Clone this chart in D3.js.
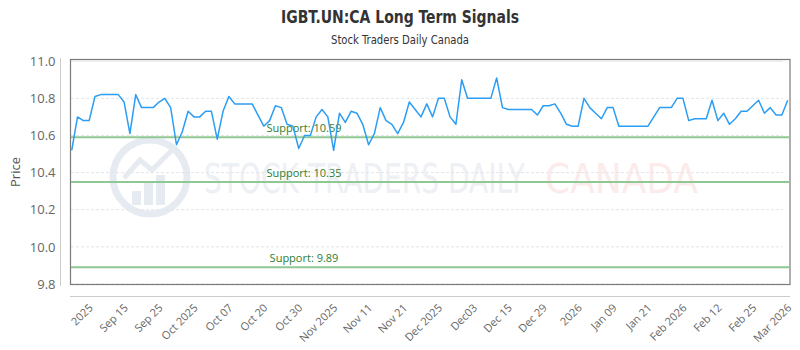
<!DOCTYPE html>
<html>
<head>
<meta charset="utf-8">
<script src="https://cdn.jsdelivr.net/npm/d3@7/dist/d3.min.js"></script>
<style>
  body { margin: 0; background: #fff; }
  #main { width: 800px; height: 350px; }
  text { font-family: "Open Sans", "DejaVu Sans", sans-serif; }
</style>
</head>
<body>
<div id="main"></div>
<script>
'use strict'

// closing prices, one per trading day
const prices = [
  10.52, 10.70, 10.68, 10.68, 10.81, 10.82, 10.82, 10.82, 10.82, 10.78,
  10.61, 10.82, 10.75, 10.75, 10.75, 10.78, 10.80, 10.75, 10.55, 10.62,
  10.73, 10.70, 10.70, 10.73, 10.73, 10.58, 10.73, 10.81, 10.77, 10.77,
  10.77, 10.77, 10.71, 10.65, 10.68, 10.76, 10.75, 10.66, 10.65, 10.53,
  10.60, 10.60, 10.70, 10.74, 10.70, 10.52, 10.72, 10.67, 10.73, 10.72,
  10.66, 10.55, 10.61, 10.75, 10.68, 10.66, 10.61, 10.67, 10.78, 10.74,
  10.70, 10.77, 10.70, 10.80, 10.80, 10.70, 10.66, 10.90, 10.80, 10.80,
  10.80, 10.80, 10.80, 10.91, 10.75, 10.74, 10.74, 10.74, 10.74, 10.74,
  10.71, 10.76, 10.76, 10.77, 10.72, 10.66, 10.65, 10.65, 10.80, 10.75,
  10.72, 10.69, 10.75, 10.75, 10.65, 10.65, 10.65, 10.65, 10.65, 10.65,
  10.70, 10.75, 10.75, 10.75, 10.80, 10.80, 10.68, 10.69, 10.69, 10.69,
  10.79, 10.68, 10.72, 10.66, 10.69, 10.73, 10.73, 10.76, 10.79, 10.72,
  10.75, 10.71, 10.71, 10.79
];

// x tick labels and the day index each belongs to
const tickLabels = ["2025", "Sep 15", "Sep 25", "Oct 2025", "Oct 07", "Oct 20", "Oct 30",
  "Nov 2025", "Nov 11", "Nov 21", "Dec 2025", "Dec03", "Dec 15", "Dec 29", "2026",
  "Jan 09", "Jan 21", "Feb 2026", "Feb 12", "Feb 25", "Mar 2026"];
const tickIndex = [3, 9, 15, 21, 27, 33, 39, 45, 51, 57, 63, 69, 75, 81, 87, 93, 99, 105, 111, 117, 123];

const yTicks = [9.8, 10.0, 10.2, 10.4, 10.6, 10.8, 11.0];
const supports = [10.59, 10.35, 9.89];

document.addEventListener('DOMContentLoaded', function(){
  drawChart();
});

function drawChart(){
  let svgWidth = 800;
  let svgHeight = 350;

  let svg = d3.select('#main')
    .append('svg')
    .attr('width', svgWidth)
    .attr('height', svgHeight);

  let xScale = d3.scaleLinear()
    .domain([0, prices.length - 1])
    .range([71.7, 787.7]);

  let yScale = d3.scaleLinear()
    .domain([9.8, 11.0])
    .range([284, 61.2]);

  //Title
  svg.append("text")
    .text("IGBT.UN:CA Long Term Signals")
    .attr("x", 400).attr("y", 23)
    .attr("text-anchor", "middle")
    .attr("textLength", 238).attr("lengthAdjust", "spacingAndGlyphs")
    .style("font-family", '"Liberation Sans Narrow", "DejaVu Sans Condensed", sans-serif')
    .style("font-weight", "bold")
    .style("font-size", "18px")
    .attr("fill", "#333");

  svg.append("text")
    .text("Stock Traders Daily Canada")
    .attr("x", 400).attr("y", 44)
    .attr("text-anchor", "middle")
    .attr("textLength", 138).attr("lengthAdjust", "spacingAndGlyphs")
    .style("font-family", '"Liberation Sans Narrow", "DejaVu Sans Condensed", sans-serif')
    .style("font-size", "12.5px")
    .attr("fill", "#333");

  //Watermark
  let wm = svg.append("g").attr("opacity", 0.55);
  wm.append("circle")
    .attr("cx", 150).attr("cy", 177).attr("r", 37)
    .attr("fill", "none").attr("stroke", "#d3dbe6").attr("stroke-width", 7);
  [[-18, 14], [-6, 22], [6, 30]].forEach(b => {
    wm.append("rect")
      .attr("x", 150 + b[0]).attr("y", 205 - b[1])
      .attr("width", 9).attr("height", b[1])
      .attr("fill", "#d3dbe6");
  });
  wm.append("path")
    .attr("d", "M124,178 L140,160 L152,170 L172,150")
    .attr("fill", "none").attr("stroke", "#d3dbe6").attr("stroke-width", 5);
  wm.append("text")
    .text("STOCK TRADERS DAILY")
    .attr("x", 204).attr("y", 193)
    .attr("textLength", 321).attr("lengthAdjust", "spacingAndGlyphs")
    .style("font-family", '"Liberation Sans Narrow", "DejaVu Sans Condensed", sans-serif')
    .style("font-size", "41px")
    .attr("fill", "#dfe4ec");
  wm.append("text")
    .text("CANADA")
    .attr("x", 545).attr("y", 193)
    .attr("textLength", 153).attr("lengthAdjust", "spacingAndGlyphs")
    .style("font-family", '"Liberation Sans Narrow", "DejaVu Sans Condensed", sans-serif')
    .style("font-size", "41px")
    .attr("fill", "#fbdcdc");

  //Grid lines
  svg.append("g")
    .selectAll("line")
    .data(yTicks)
    .enter()
    .append("line")
    .attr("x1", 71).attr("x2", 783)
    .attr("y1", d => yScale(d)).attr("y2", d => yScale(d))
    .attr("stroke", "#e2e6ea")
    .attr("stroke-dasharray", d => d === 11.0 ? null : "3,2");

  //Plot frame
  svg.append("rect")
    .attr("x", 70.5).attr("y", 59.5)
    .attr("width", 719.5).attr("height", 225)
    .attr("fill", "none")
    .attr("stroke", "#7a7a7a")
    .attr("stroke-width", 1.2);

  //y axis
  const yAxis = d3.axisLeft(yScale)
    .tickValues(yTicks)
    .tickFormat(d3.format(".1f"))
    .tickSize(0)
    .tickPadding(5);
  let yg = svg.append("g")
    .attr("transform", "translate(60.5, 0)")
    .call(yAxis);
  yg.select(".domain").attr("stroke", "#ccc").attr("d", "M0,58V286");
  yg.selectAll("text")
    .style("font-size", "13px")
    .attr("fill", "#666");

  svg.append("text")
    .text("Price")
    .attr("transform", "translate(20, 172) rotate(-90)")
    .attr("text-anchor", "middle")
    .style("font-size", "13px")
    .attr("fill", "#555");

  //x axis
  const xAxis = d3.axisBottom(xScale)
    .tickValues(tickIndex)
    .tickFormat((d, i) => tickLabels[i])
    .tickSize(0);
  let xg = svg.append("g")
    .attr("transform", "translate(0, 296.5)")
    .call(xAxis);
  xg.select(".domain").attr("stroke", "#ccc").attr("d", "M70,0H790");
  xg.selectAll("text")
    .attr("text-anchor", "end")
    .attr("dy", null)
    .attr("y", 0)
    .attr("transform", "translate(4, 12) rotate(-45)")
    .style("font-size", "11px")
    .attr("fill", "#666");

  //Support lines
  let sg = svg.append("g");
  sg.selectAll("line")
    .data(supports)
    .enter()
    .append("line")
    .attr("x1", 71).attr("x2", 790)
    .attr("y1", d => yScale(d)).attr("y2", d => yScale(d))
    .attr("stroke", "#8fc893")
    .attr("stroke-width", 2);
  sg.selectAll("text")
    .data(supports)
    .enter()
    .append("text")
    .text(d => "Support: " + d)
    .attr("x", 304)
    .attr("y", d => yScale(d) - 5)
    .attr("text-anchor", "middle")
    .style("font-size", "11px")
    .attr("fill", "#2e7d32");

  //Price line
  let line = d3.line()
    .x((d, i) => xScale(i))
    .y(d => yScale(d));
  svg.append("path")
    .datum(prices)
    .attr("d", line)
    .attr("fill", "none")
    .attr("stroke", "#2b9df4")
    .attr("stroke-width", 1.5)
    .attr("stroke-linejoin", "round");
}
</script>
</body>
</html>
